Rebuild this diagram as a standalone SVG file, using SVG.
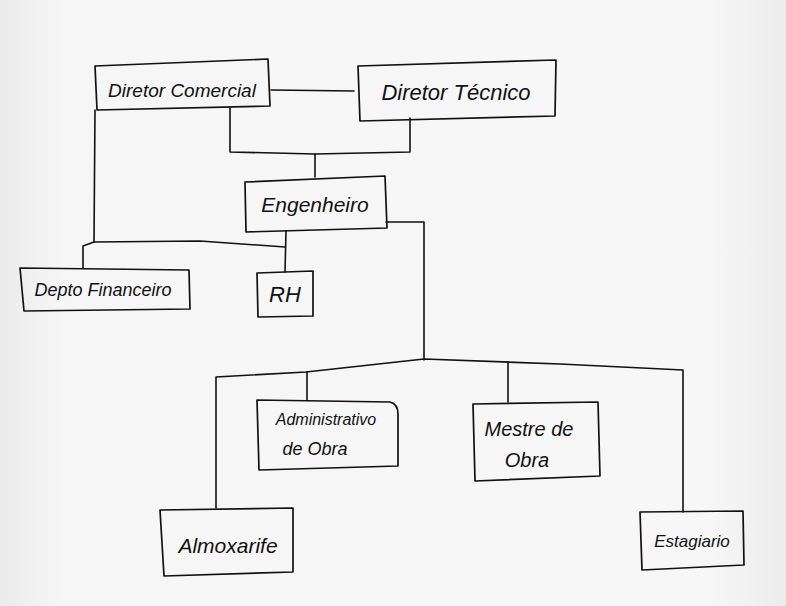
<svg xmlns="http://www.w3.org/2000/svg" width="786" height="606" viewBox="0 0 786 606">
  <defs>
    <linearGradient id="paper" x1="0" y1="0" x2="1" y2="0">
      <stop offset="0" stop-color="#ebebeb"/>
      <stop offset="0.08" stop-color="#f6f6f6"/>
      <stop offset="0.9" stop-color="#f7f7f7"/>
      <stop offset="1" stop-color="#ececec"/>
    </linearGradient>
    <style>
      .box { fill: none; stroke: #111; stroke-width: 1.7; stroke-linejoin: round; }
      .wire { fill: none; stroke: #111; stroke-width: 1.6; stroke-linecap: round; stroke-linejoin: round; }
      .lbl { font-family: "Liberation Sans", "DejaVu Sans", sans-serif; font-style: italic; fill: #111; text-anchor: middle; }
    </style>
  </defs>

  <!-- paper -->
  <rect width="786" height="606" fill="url(#paper)"/>

  <!-- connectors -->
  <g id="connectors" class="wire">
    <!-- Diretor Comercial to Diretor Técnico -->
    <path d="M271 90 L354 91"/>
    <!-- directors down to Engenheiro -->
    <path d="M230 108 L230 152 L315 154 L410 152 L410 118"/>
    <path d="M315 154 L315 177"/>
    <!-- Diretor Comercial down to Depto Financeiro / RH bar -->
    <path d="M95 110 L94 242"/>
    <path d="M83 268 L83 246 L94 242 L200 241 L285 247"/>
    <!-- Engenheiro to RH -->
    <path d="M286 231 L285 272"/>
    <!-- Engenheiro to lower branch -->
    <path d="M386 222 L424 222 L424 360"/>
    <path d="M216 508 L216 377 L306 372 L424 359 L560 364 L683 370 L683 512"/>
    <path d="M307 372 L307 400"/>
    <path d="M508 362 L508 402"/>
  </g>

  <!-- nodes -->
  <g id="diretor-comercial">
    <path class="box" d="M95 66 L268 59 L270 106 L97 110 Z"/>
    <text class="lbl" x="182" y="97" font-size="19">Diretor Comercial</text>
  </g>

  <g id="diretor-tecnico">
    <path class="box" d="M358 66 L556 60 L555 116 L360 121 Z"/>
    <text class="lbl" x="456" y="100" font-size="22">Diretor Técnico</text>
  </g>

  <g id="engenheiro">
    <path class="box" d="M245 182 L385 176 L387 228 L246 232 Z"/>
    <text class="lbl" x="315" y="212" font-size="21">Engenheiro</text>
  </g>

  <g id="depto-financeiro">
    <path class="box" d="M20 268 L189 270 L190 309 L24 311 Z"/>
    <text class="lbl" x="103" y="296" font-size="18">Depto Financeiro</text>
  </g>

  <g id="rh">
    <path class="box" d="M257 273 L313 271 L313 316 L258 317 Z"/>
    <text class="lbl" x="285" y="302" font-size="22">RH</text>
  </g>

  <g id="administrativo-de-obra">
    <path class="box" d="M257 400 L390 402 Q398 404 398 414 L398 466 L259 470 Z"/>
    <text class="lbl" x="326" y="425" font-size="16">Administrativo</text>
    <text class="lbl" x="315" y="455" font-size="18">de Obra</text>
  </g>

  <g id="mestre-de-obra">
    <path class="box" d="M473 404 L598 402 L600 476 L475 481 Z"/>
    <text class="lbl" x="529" y="436" font-size="20">Mestre de</text>
    <text class="lbl" x="527" y="467" font-size="20">Obra</text>
  </g>

  <g id="almoxarife">
    <path class="box" d="M160 510 L293 508 L293 572 L164 576 Z"/>
    <text class="lbl" x="228" y="553" font-size="21">Almoxarife</text>
  </g>

  <g id="estagiario">
    <path class="box" d="M640 512 L743 511 L744 565 L642 570 Z"/>
    <text class="lbl" x="692" y="547" font-size="17">Estagiario</text>
  </g>
</svg>
